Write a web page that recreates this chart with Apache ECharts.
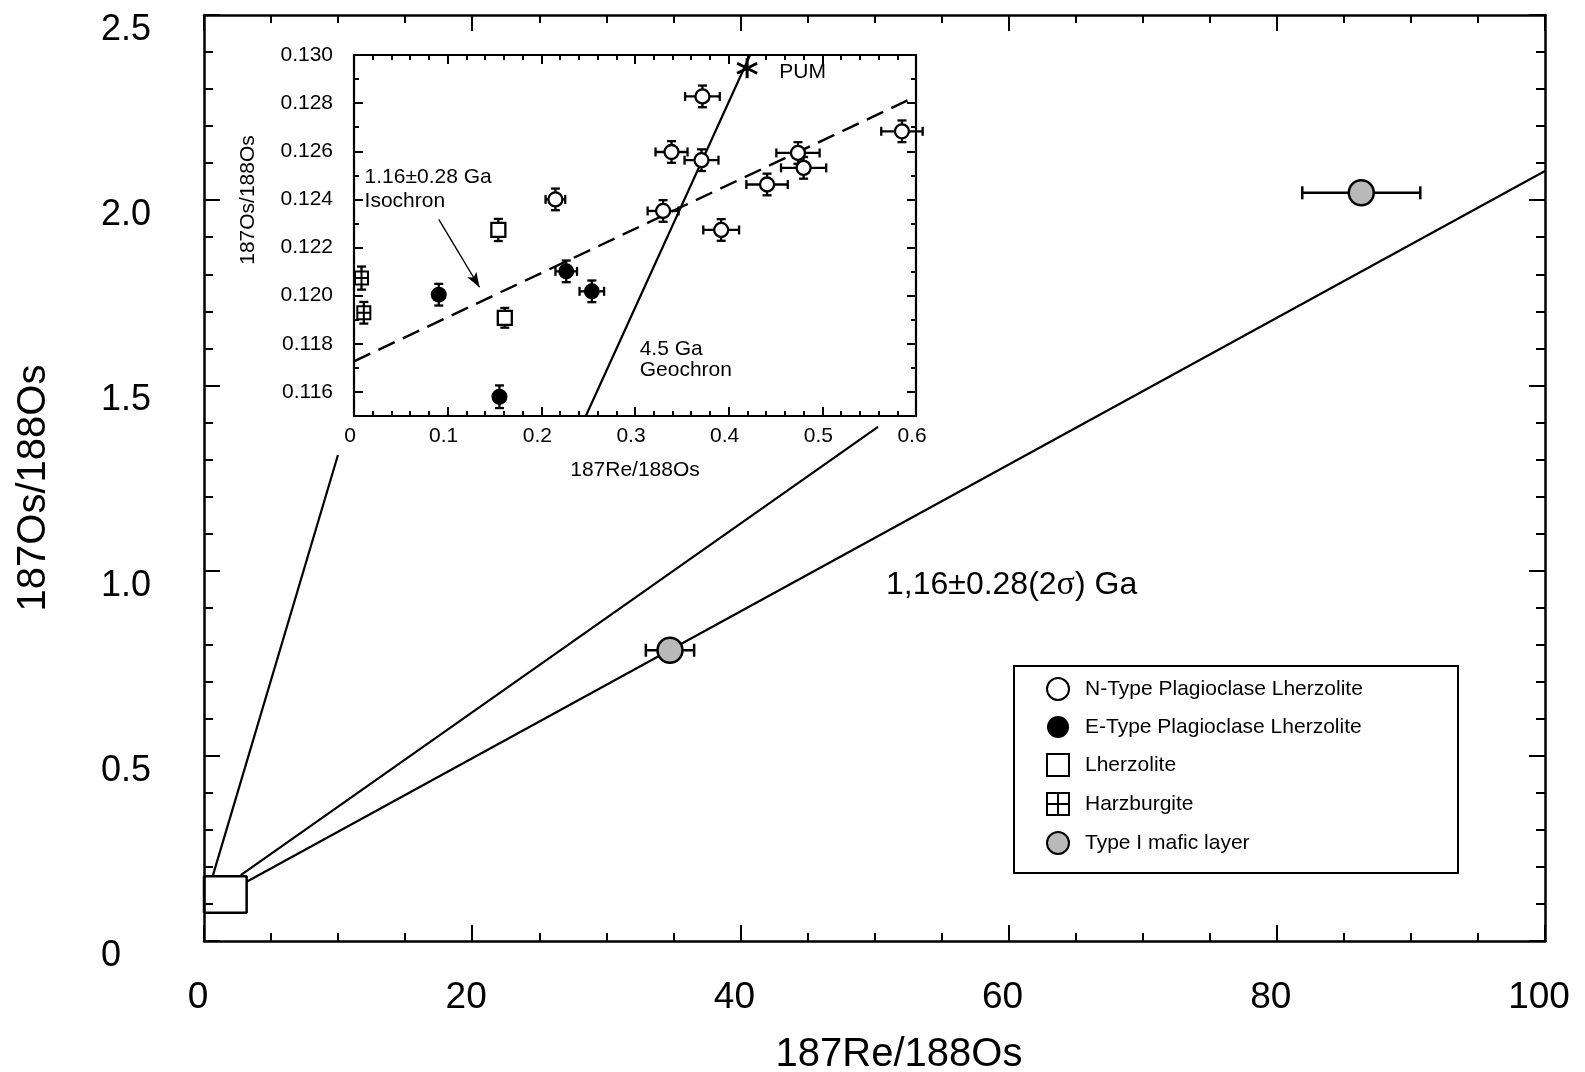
<!DOCTYPE html>
<html><head><meta charset="utf-8">
<script src="https://cdn.jsdelivr.net/npm/echarts@6/dist/echarts.min.js"></script>
<style>html,body{margin:0;padding:0;background:#fff}#c{width:1585px;height:1072px}</style>
</head><body><div id="c"></div>
<script>
// ===== Main plot data: [187Re/188Os, 187Os/188Os, xErr]
const mainXTicks = [0, 20, 40, 60, 80, 100];
const mainYTicks = [0, 0.5, 1.0, 1.5, 2.0, 2.5];
const typeIMafic = [[34.75, 0.785, 1.8], [86.3, 2.02, 4.4]];
const mainIsochron = [[3.18, 0.16], [100, 2.079]];
const zoomBox = [[0, 0.076], [3.18, 0.076], [3.18, 0.175], [0, 0.175], [0, 0.076]];
const connectorLeft = [[0.67, 0.178], [9.99, 1.312]];
const connectorRight = [[2.74, 0.178], [50.26, 1.388]];
const mainNotes = ['1,16±0.28(2{s|σ}) Ga'];

// ===== Inset data: [187Re/188Os, 187Os/188Os, xErr, yErr]
const nType = [
  [0.372, 0.12828, 0.0185, 0.00045],
  [0.339, 0.12597, 0.0171, 0.00045],
  [0.371, 0.12563, 0.0181, 0.00045],
  [0.585, 0.12683, 0.0221, 0.00045],
  [0.474, 0.12593, 0.0231, 0.00045],
  [0.480, 0.12531, 0.0241, 0.00045],
  [0.441, 0.12462, 0.0221, 0.00045],
  [0.215, 0.12400, 0.0105, 0.00045],
  [0.330, 0.12352, 0.0165, 0.00045],
  [0.392, 0.12273, 0.0191, 0.00045]
];
const eType = [
  [0.0905, 0.12004, 0, 0.00045],
  [0.2266, 0.12101, 0.0115, 0.00045],
  [0.2539, 0.12018, 0.0131, 0.00045],
  [0.1553, 0.11580, 0, 0.00047]
];
const lherzolite = [[0.1541, 0.12273, 0, 0.00046], [0.1610, 0.11908, 0, 0.00041]];
const harzburgite = [[0.0080, 0.12073, 0, 0.00048], [0.0105, 0.11929, 0, 0.00045]];
const pum = [[0.4197, 0.12945]];
const geochron = [[0.2475, 0.115], [0.4229, 0.130]];
const insetIsochron = [[0, 0.11727], [0.6, 0.12828]];
const isochronArrow = [[0.0905, 0.12317], [0.134, 0.12035]];
const insetXTicks = [0, 0.1, 0.2, 0.3, 0.4, 0.5, 0.6];
const insetYTicks = [0.116, 0.118, 0.120, 0.122, 0.124, 0.126, 0.128, 0.130];
const insetNotes = ['1.16±0.28 Ga', 'Isochron', '4.5 Ga', 'Geochron', 'PUM'];
const legendNames = ['N-Type Plagioclase Lherzolite', 'E-Type Plagioclase Lherzolite', 'Lherzolite', 'Harzburgite', 'Type I mafic layer'];

// ===== Layout / style
const FONT = '"Liberation Sans", Arial, Helvetica, sans-serif';
const BLACK = '#000';
const mainNoteAnchors = [[50.86, 0.962]];
const insetNoteAnchors = [[0.0113, 0.12492], [0.0113, 0.12393], [0.305, 0.11777], [0.305, 0.11690], [0.454, 0.12930]];
const HARZ = 'path://M0,0H20V20H0ZM10,0V20M0,10H20';
const STAR = 'path://M10,0V20M1.34,5L18.66,15M1.34,15L18.66,5';

const chart = echarts.init(document.getElementById('c'), null, {renderer: 'canvas'});

function errBars(capPx, lw) {
  return function (params, api) {
    const x = api.value(0), y = api.value(1), xe = api.value(2), ye = api.value(3);
    const st = {stroke: BLACK, lineWidth: lw};
    const ch = [];
    if (xe > 0) {
      const l = api.coord([x - xe, y]), r = api.coord([x + xe, y]);
      ch.push({type: 'line', shape: {x1: l[0], y1: l[1], x2: r[0], y2: r[1]}, style: st});
      ch.push({type: 'line', shape: {x1: l[0], y1: l[1] - capPx / 2, x2: l[0], y2: l[1] + capPx / 2}, style: st});
      ch.push({type: 'line', shape: {x1: r[0], y1: r[1] - capPx / 2, x2: r[0], y2: r[1] + capPx / 2}, style: st});
    }
    if (ye > 0) {
      const b = api.coord([x, y - ye]), t = api.coord([x, y + ye]);
      ch.push({type: 'line', shape: {x1: b[0], y1: b[1], x2: t[0], y2: t[1]}, style: st});
      ch.push({type: 'line', shape: {x1: b[0] - capPx / 2, y1: b[1], x2: b[0] + capPx / 2, y2: b[1]}, style: st});
      ch.push({type: 'line', shape: {x1: t[0] - capPx / 2, y1: t[1], x2: t[0] + capPx / 2, y2: t[1]}, style: st});
    }
    return {type: 'group', children: ch};
  };
}
function errSeries(name, data, xi, yi, cap, lw) {
  return {type: 'custom', name: name, xAxisIndex: xi, yAxisIndex: yi, data: data,
    encode: {x: 0, y: 1}, renderItem: errBars(cap, lw), z: 3, silent: true};
}
function noteSeries(texts, anchors, xi, yi, size) {
  return {type: 'custom', name: 'notes' + xi, xAxisIndex: xi, yAxisIndex: yi,
    data: anchors.map(a => [a[0], a[1]]), encode: {x: 0, y: 1}, z: 6, silent: true,
    renderItem: function (params, api) {
      const p = api.coord([api.value(0), api.value(1)]);
      return {type: 'text', x: p[0], y: p[1], style: {
        text: texts[params.dataIndex], fontSize: size, fontFamily: FONT, fill: BLACK,
        align: 'left', verticalAlign: 'middle',
        rich: {s: {fontFamily: '"Liberation Serif", "Times New Roman", serif', fontSize: size + 2, fill: BLACK}}
      }};
    }};
}
function lineSeries(name, data, xi, yi, w, dashed) {
  return {type: 'line', name: name, xAxisIndex: xi, yAxisIndex: yi, data: data,
    symbol: 'none', showSymbol: false, silent: true, z: 2,
    lineStyle: {color: BLACK, width: w, type: dashed ? [18, 9] : 'solid'}};
}
function xAx(grid, pos, min, max, interval, split, tickLen, minorLen, lw, lbl) {
  return {type: 'value', gridIndex: grid, position: pos, min: min, max: max, interval: interval,
    axisLine: {show: true, onZero: false, lineStyle: {color: BLACK, width: lw}},
    axisTick: {show: true, inside: true, length: tickLen, lineStyle: {color: BLACK, width: 2}},
    minorTick: {show: true, splitNumber: split, length: minorLen, lineStyle: {color: BLACK, width: 2}},
    splitLine: {show: false}, minorSplitLine: {show: false},
    axisLabel: lbl ? Object.assign({show: true, color: BLACK, fontFamily: FONT, showMinLabel: true, showMaxLabel: true}, lbl) : {show: false}};
}

const insetYFmt = v => v.toFixed(3);

const option = {
  animation: false,
  backgroundColor: '#fff',
  grid: [
    {left: 204, top: 15, width: 1341, height: 926, show: false, outerBoundsMode: 'none', containLabel: false},
    {left: 354, top: 55, width: 562, height: 361, show: true, backgroundColor: '#fff', borderWidth: 0, outerBoundsMode: 'none', containLabel: false}
  ],
  xAxis: [
    Object.assign(xAx(0, 'bottom', 0, 100, 20, 4, 16, 8, 2.5,
      {fontSize: 37, margin: 38, padding: [0, 12, 0, 0], formatter: v => String(v)}),
      {name: '187Re/188Os', nameLocation: 'middle', nameGap: 94, nameMoveOverlap: false,
       nameTextStyle: {fontSize: 40, fontFamily: FONT, color: BLACK, padding: [0, 0, 0, 49]}}),
    xAx(0, 'top', 0, 100, 20, 4, 16, 8, 2.5, null),
    Object.assign(xAx(1, 'bottom', 0, 0.6, 0.1, 5, 9, 5, 2.2,
      {fontSize: 21, margin: 10, padding: [0, 8, 0, 0], formatter: v => (v === 0 ? '0' : v.toFixed(1))}),
      {name: '187Re/188Os', nameLocation: 'middle', nameGap: 44, nameMoveOverlap: false,
       nameTextStyle: {fontSize: 21, fontFamily: FONT, color: BLACK}}),
    xAx(1, 'top', 0, 0.6, 0.1, 5, 9, 5, 2.2, null)
  ],
  yAxis: [
    Object.assign(xAx(0, 'left', 0, 2.5, 0.5, 5, 16, 9, 2.5,
      {fontSize: 36, margin: 103, align: 'left', verticalAlign: 'top', lineHeight: 30,
       formatter: v => (v === 0 ? '0' : v.toFixed(1))}),
      {name: '187Os/188Os', nameLocation: 'middle', nameGap: 150, nameRotate: 90, nameMoveOverlap: false,
       nameTextStyle: {fontSize: 40, fontFamily: FONT, color: BLACK, padding: [0, 20, 0, 0]}}),
    xAx(0, 'right', 0, 2.5, 0.5, 5, 16, 9, 2.5, null),
    {type: 'value', gridIndex: 1, position: 'left', min: 0.115, max: 0.130,
      axisLine: {show: true, onZero: false, lineStyle: {color: BLACK, width: 2.2}},
      axisTick: {show: true, inside: true, length: 9, customValues: insetYTicks, lineStyle: {color: BLACK, width: 2}},
      axisLabel: {show: true, customValues: insetYTicks, formatter: insetYFmt, fontSize: 21, fontFamily: FONT, color: BLACK, margin: 21},
      splitLine: {show: false},
      name: '187Os/188Os', nameLocation: 'middle', nameGap: 95, nameRotate: 90, nameMoveOverlap: false,
      nameTextStyle: {fontSize: 21, fontFamily: FONT, color: BLACK, padding: [0, 0, 0, 71]}},
    {type: 'value', gridIndex: 1, position: 'left', min: 0.115, max: 0.130, interval: 0.001,
      axisLine: {show: false, onZero: false}, axisTick: {show: true, inside: true, length: 5, lineStyle: {color: BLACK, width: 2}},
      axisLabel: {show: false}, splitLine: {show: false}},
    {type: 'value', gridIndex: 1, position: 'right', min: 0.115, max: 0.130,
      axisLine: {show: true, onZero: false, lineStyle: {color: BLACK, width: 2.2}},
      axisTick: {show: true, inside: true, length: 9, customValues: insetYTicks, lineStyle: {color: BLACK, width: 2}},
      axisLabel: {show: false}, splitLine: {show: false}},
    {type: 'value', gridIndex: 1, position: 'right', min: 0.115, max: 0.130, interval: 0.001,
      axisLine: {show: false, onZero: false}, axisTick: {show: true, inside: true, length: 5, lineStyle: {color: BLACK, width: 2}},
      axisLabel: {show: false}, splitLine: {show: false}}
  ],
  legend: {
    show: true, orient: 'vertical', left: 1046, top: 677, padding: 0,
    itemWidth: 22, itemHeight: 22, itemGap: 15,
    data: legendNames, selectedMode: false,
    textStyle: {fontSize: 21, fontFamily: FONT, color: BLACK, padding: [0, 0, 0, 11]}
  },
  graphic: [
    {type: 'rect', left: 1013, top: 665, shape: {width: 444, height: 207}, z: 0,
     style: {fill: '#fff', stroke: BLACK, lineWidth: 2}}
  ],
  series: [
    // main plot
    lineSeries('main isochron', mainIsochron, 0, 0, 2.2, false),
    lineSeries('connector left', connectorLeft, 0, 0, 2.2, false),
    lineSeries('connector right', connectorRight, 0, 0, 2.2, false),
    lineSeries('zoom box', zoomBox, 0, 0, 2.5, false),
    errSeries('Type I err', typeIMafic.map(d => [d[0], d[1], d[2], 0]), 0, 0, 13, 2.5),
    {type: 'scatter', name: 'Type I mafic layer', xAxisIndex: 0, yAxisIndex: 0, data: typeIMafic,
     symbol: 'circle', symbolSize: 25, z: 4,
     itemStyle: {color: '#b9b9b9', borderColor: BLACK, borderWidth: 2.5, opacity: 1}},
    noteSeries(mainNotes, mainNoteAnchors, 0, 0, 32),
    // inset
    Object.assign(lineSeries('geochron', geochron, 2, 2, 2.2, false), {
      markLine: {silent: true, symbol: ['none', 'arrow'], symbolSize: [8, 15], animation: false,
        lineStyle: {type: 'solid', width: 1.4, color: BLACK}, label: {show: false}, emphasis: {disabled: true},
        data: [[{coord: isochronArrow[0]}, {coord: isochronArrow[1]}]]}
    }),
    lineSeries('inset isochron', insetIsochron, 2, 2, 2.4, true),
    errSeries('N err', nType, 2, 2, 9, 2.3),
    errSeries('E err', eType, 2, 2, 9, 2.3),
    errSeries('L err', lherzolite, 2, 2, 9, 2.3),
    errSeries('H err', harzburgite, 2, 2, 9, 2.3),
    {type: 'scatter', name: legendNames[0], xAxisIndex: 2, yAxisIndex: 2, data: nType, clip: false,
     symbol: 'circle', symbolSize: 14, z: 4, itemStyle: {color: '#fff', borderColor: BLACK, borderWidth: 2.3, opacity: 1}},
    {type: 'scatter', name: legendNames[1], xAxisIndex: 2, yAxisIndex: 2, data: eType, clip: false,
     symbol: 'circle', symbolSize: 16, z: 4, itemStyle: {color: BLACK, borderColor: BLACK, borderWidth: 0, opacity: 1}},
    {type: 'scatter', name: legendNames[2], xAxisIndex: 2, yAxisIndex: 2, data: lherzolite, clip: false,
     symbol: 'rect', symbolSize: 14, z: 4, itemStyle: {color: '#fff', borderColor: BLACK, borderWidth: 2.3, opacity: 1}},
    {type: 'scatter', name: legendNames[3], xAxisIndex: 2, yAxisIndex: 2, data: harzburgite, clip: false,
     symbol: HARZ, symbolSize: 13, z: 4, itemStyle: {color: '#fff', borderColor: BLACK, borderWidth: 2, opacity: 1}},
    {type: 'scatter', name: 'PUM', xAxisIndex: 2, yAxisIndex: 2, data: pum, clip: false,
     symbol: STAR, symbolSize: 20, z: 5, itemStyle: {color: 'rgba(0,0,0,0)', borderColor: BLACK, borderWidth: 3, opacity: 1}},
    noteSeries(insetNotes, insetNoteAnchors, 2, 2, 21)
  ]
};
chart.setOption(option);
</script></body></html>
